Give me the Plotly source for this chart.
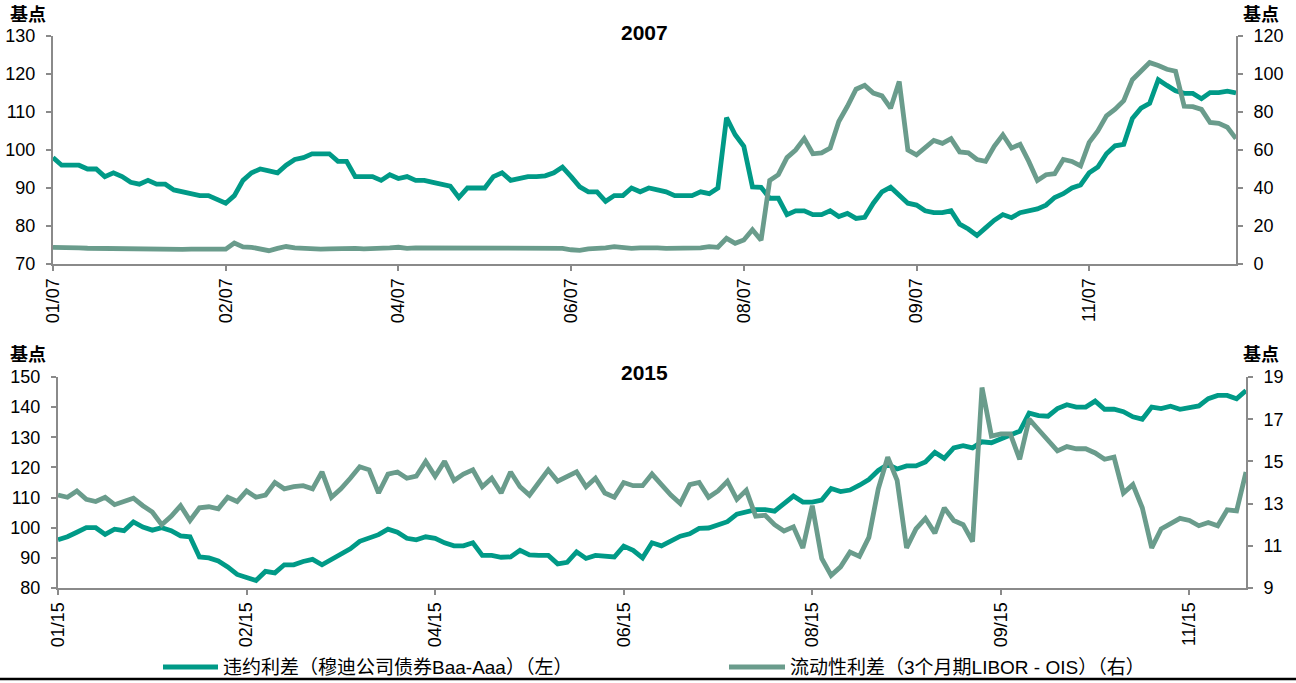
import plotly.graph_objects as go

# ---------------- data ----------------
TOP_TICK_LABELS = ["01/07", "02/07", "04/07", "06/07", "08/07", "09/07", "11/07"]
BOT_TICK_LABELS = ["01/15", "02/15", "04/15", "06/15", "08/15", "09/15", "11/15"]
TICK_STEP = 20

default_2007 = [
    98, 96, 96, 96, 95, 95, 93, 94, 93, 91.5, 91, 92, 91, 91, 89.5, 89, 88.5, 88, 88, 87,
    86, 88, 92, 94, 95, 94.5, 94, 96, 97.5, 98, 99, 99, 99, 97, 97, 93, 93, 93, 92, 93.5,
    92.5, 93, 92, 92, 91.5, 91, 90.5, 87.5, 90, 90, 90, 93, 94, 92, 92.5, 93, 93, 93.2, 94, 95.5,
    93, 90.3, 89, 89, 86.5, 88, 88, 90, 89, 90, 89.5, 89, 88, 88, 88, 89, 88.5, 90, 108.5, 104,
    101, 90.3, 90.2, 87.3, 87.3, 83, 84, 84, 83, 83, 84, 82.5, 83.3, 82, 82.3, 86, 89, 90.2, 88, 86,
    85.5, 84, 83.5, 83.5, 84, 80.5, 79.2, 77.5, 79.5, 81.5, 83, 82.2, 83.5, 84, 84.5, 85.5, 87.5, 88.5, 90, 90.8,
    94, 95.5, 99, 101.1, 101.5, 108.3, 111, 112.3, 118.5, 117, 115.6, 114.9, 114.9, 113.5, 115.1, 115.1, 115.5, 115,
]
liquidity_2007 = [
    8.8, 8.5, 8.6, 8.5, 8.3, 8.2, 8.2, 8.3, 8.2, 8.2, 8.3, 8.2, 7.9, 7.8, 7.8, 7.7, 7.8, 7.8, 7.7, 7.8,
    7.8, 11, 9, 8.8, 8, 7, 8.2, 9.2, 8.5, 8.2, 8, 7.8, 8, 8.2, 8, 8.2, 8, 8, 8.2, 8.5,
    8.8, 8.2, 8.5, 8.5, 8.2, 8.2, 8.3, 8.2, 8.5, 8.2, 8.3, 8.2, 8.3, 8.5, 8.3, 8.2, 8.3, 8.2, 8.5, 8.2,
    7.5, 7.2, 8, 8, 8.5, 9.1, 8.5, 8.2, 8.5, 8.8, 8.5, 8.2, 8.2, 8.2, 8.2, 8.5, 9.1, 8.8, 13.5, 10.9,
    12.6, 18, 12.5, 44, 47, 56, 60, 66, 58, 58.5, 61, 75, 83, 92, 94, 90, 88.5, 82, 96, 60,
    57.5, 61, 65, 63.5, 66, 59, 58.5, 55, 54, 62, 68, 61, 63, 54, 44, 47, 47.5, 55, 54, 51.6,
    64, 70, 78, 81.5, 86, 97, 101.5, 106, 104.5, 102.5, 101.5, 83, 82.8, 81.4, 74.5, 74, 72, 66,
]
default_2015 = [
    96, 97, 98.5, 100, 100, 97.8, 99.5, 99, 101.9, 100.2, 99.2, 100, 99, 97.3, 97, 90.3, 90, 89, 87, 84.5,
    83.5, 82.5, 85.5, 85, 87.7, 87.7, 88.8, 89.5, 87.7, 89.5, 91.5, 93, 95.5, 96.5, 97.7, 99.5, 98.5, 96.5, 96, 97,
    96.5, 95, 94, 94, 95, 90.8, 90.8, 90.2, 90.3, 92.5, 91, 90.8, 90.8, 88, 88.5, 92, 89.8, 90.8, 90.6, 90.3,
    93.9, 92.5, 90, 95, 94, 95.5, 97.2, 98, 99.8, 99.9, 101, 102, 104.5, 105.4, 106, 106, 105.5, 108, 110.5, 108.5,
    108.5, 109.2, 113, 112, 112.5, 114.1, 116, 119, 121, 119.5, 120.5, 120.5, 121.8, 125, 123, 126.5, 127.2, 126.5, 128.5, 128.2,
    129.5, 130.6, 132, 138, 137.2, 137, 139.5, 140.8, 140, 140, 142, 139.3, 139.3, 138.5, 136.8, 136, 140, 139.5, 140.3, 139.3,
    139.8, 140.4, 142.8, 143.9, 143.9, 142.8, 145.5,
]
liquidity_2015 = [
    13.4, 13.3, 13.6, 13.2, 13.1, 13.3, 12.95, 13.1, 13.26, 12.9, 12.6, 12.0, 12.4, 12.9, 12.2, 12.8, 12.85, 12.75, 13.3, 13.1,
    13.6, 13.3, 13.4, 14.0, 13.7, 13.8, 13.85, 13.7, 14.5, 13.3, 13.7, 14.2, 14.75, 14.6, 13.5, 14.4, 14.5, 14.2, 14.3, 15.0,
    14.3, 15.0, 14.1, 14.4, 14.6, 13.8, 14.2, 13.5, 14.5, 13.8, 13.4, 14.0, 14.6, 14.06, 14.3, 14.5, 13.8, 14.2, 13.5, 13.3,
    14.0, 13.85, 13.85, 14.4, 13.9, 13.4, 13.0, 13.9, 14.0, 13.3, 13.6, 14.06, 13.2, 13.63, 12.4, 12.45, 12.0, 11.7, 11.9, 10.9,
    12.9, 10.4, 9.6, 10.0, 10.7, 10.5, 11.4, 13.7, 15.2, 14.1, 10.9, 11.8, 12.3, 11.6, 12.8, 12.2, 12.0, 11.2, 18.5, 16.2,
    16.3, 16.3, 15.1, 17.0, 16.5, 16.0, 15.5, 15.7, 15.6, 15.6, 15.4, 15.1, 15.2, 13.5, 13.9, 12.8, 10.9, 11.8, 12.05, 12.3,
    12.2, 11.95, 12.1, 11.95, 12.7, 12.65, 14.5,
]

NAME_DEFAULT = "违约利差（穆迪公司债券Baa-Aaa）（左）"
NAME_LIQ = "流动性利差（3个月期LIBOR - OIS）（右）"

# ---------------- style ----------------
W, H = 1296, 683
TEAL = "#009A87"
SAGE = "#6A9C8C"
AXIS = "#8A8A8A"
LW = 4.8
FONT = "Liberation Sans, Arial, Noto Sans CJK SC, sans-serif"
CJK = "Liberation Sans, Noto Sans CJK SC, sans-serif"

def px_x(x):
    return x / W

def px_y(y):
    return 1 - y / H

x_top = list(range(len(default_2007)))
x_bot = list(range(len(default_2015)))

fig = go.Figure()
fig.add_trace(go.Scatter(x=x_top, y=default_2007, xaxis="x", yaxis="y", mode="lines",
                         line=dict(color=TEAL, width=LW), name=NAME_DEFAULT))
fig.add_trace(go.Scatter(x=x_top, y=liquidity_2007, xaxis="x", yaxis="y2", mode="lines",
                         line=dict(color=SAGE, width=LW), name=NAME_LIQ))
fig.add_trace(go.Scatter(x=x_bot, y=default_2015, xaxis="x2", yaxis="y3", mode="lines",
                         line=dict(color=TEAL, width=LW), name=NAME_DEFAULT))
fig.add_trace(go.Scatter(x=x_bot, y=liquidity_2015, xaxis="x2", yaxis="y4", mode="lines",
                         line=dict(color=SAGE, width=LW), name=NAME_LIQ))

def xaxis_cfg(domain, n, labels, anchor):
    return dict(domain=domain, range=[0, n - 1], anchor=anchor,
                tickmode="array", tickvals=[i * TICK_STEP for i in range(len(labels))],
                ticktext=labels, tickangle=-90, ticks="outside", ticklen=5, tickwidth=1.5,
                tickcolor=AXIS, showline=True, linecolor=AXIS, linewidth=2, automargin=False,
                showgrid=False, zeroline=False, tickfont=dict(size=18, color="#000", family=FONT))

def yaxis_cfg(domain, rng, tickvals, side, anchor, overlaying=None):
    d = dict(domain=domain, range=rng, tickmode="array", tickvals=tickvals, side=side, anchor=anchor,
             ticks="outside", ticklen=5, tickwidth=1.5, tickcolor=AXIS, showline=True, linecolor=AXIS,
             linewidth=2, showgrid=False, zeroline=False, automargin=False, ticklabelstandoff=7,
             tickfont=dict(size=18, color="#000", family=FONT))
    if overlaying:
        d["overlaying"] = overlaying
    return d

top_dom_x = [px_x(53), px_x(1236)]
top_dom_y = [px_y(264), px_y(36)]
bot_dom_x = [px_x(58), px_x(1246)]
bot_dom_y = [px_y(588), px_y(377)]

fig.update_layout(
    width=W, height=H, margin=dict(l=0, r=0, t=0, b=0, autoexpand=False),
    paper_bgcolor="white", plot_bgcolor="white",
    font=dict(family=FONT, color="#000"),
    showlegend=False,
    xaxis=xaxis_cfg(top_dom_x, len(default_2007), TOP_TICK_LABELS, "y"),
    yaxis=yaxis_cfg(top_dom_y, [70, 130], list(range(70, 131, 10)), "left", "x"),
    yaxis2=yaxis_cfg(top_dom_y, [0, 120], list(range(0, 121, 20)), "right", "x", overlaying="y"),
    xaxis2=xaxis_cfg(bot_dom_x, len(default_2015), BOT_TICK_LABELS, "y3"),
    yaxis3=yaxis_cfg(bot_dom_y, [80, 150], list(range(80, 151, 10)), "left", "x2"),
    yaxis4=yaxis_cfg(bot_dom_y, [9, 19], list(range(9, 20, 2)), "right", "x2", overlaying="y3"),
)

annos = [
    ("<b>基点</b>", 28, 15, 18),
    ("<b>基点</b>", 1261, 15, 18),
    ("<b>基点</b>", 28, 355, 18),
    ("<b>基点</b>", 1261, 355, 18),
    ("<b>2007</b>", 644, 32, 21),
    ("<b>2015</b>", 644, 372, 21),
]
for text, ax, ay, size in annos:
    fig.add_annotation(text=text, xref="paper", yref="paper",
                       x=px_x(ax), y=px_y(ay), xanchor="center", yanchor="middle", showarrow=False,
                       font=dict(size=size, family=CJK, color="#000"))

# legend (line swatches + text, matching the reference layout)
legend_items = [(NAME_DEFAULT, TEAL, 163, 218), (NAME_LIQ, SAGE, 729, 785)]
for name, color, x0, x1 in legend_items:
    fig.add_shape(type="line", xref="paper", yref="paper", x0=px_x(x0), x1=px_x(x1),
                  y0=px_y(667), y1=px_y(667), line=dict(color=color, width=LW))
    fig.add_annotation(text=name, xref="paper", yref="paper", x=px_x(x1 + 3), y=px_y(667),
                       xanchor="left", yanchor="middle", showarrow=False,
                       font=dict(size=19, family=CJK, color="#000"))

fig.add_shape(type="line", xref="paper", yref="paper", x0=0, x1=1, y0=px_y(679), y1=px_y(679),
              line=dict(color="#000", width=2.5))

fig.write_html("out.html", config={"displayModeBar": False},
               post_script="document.body.style.margin='0';document.body.style.overflow='hidden';")
